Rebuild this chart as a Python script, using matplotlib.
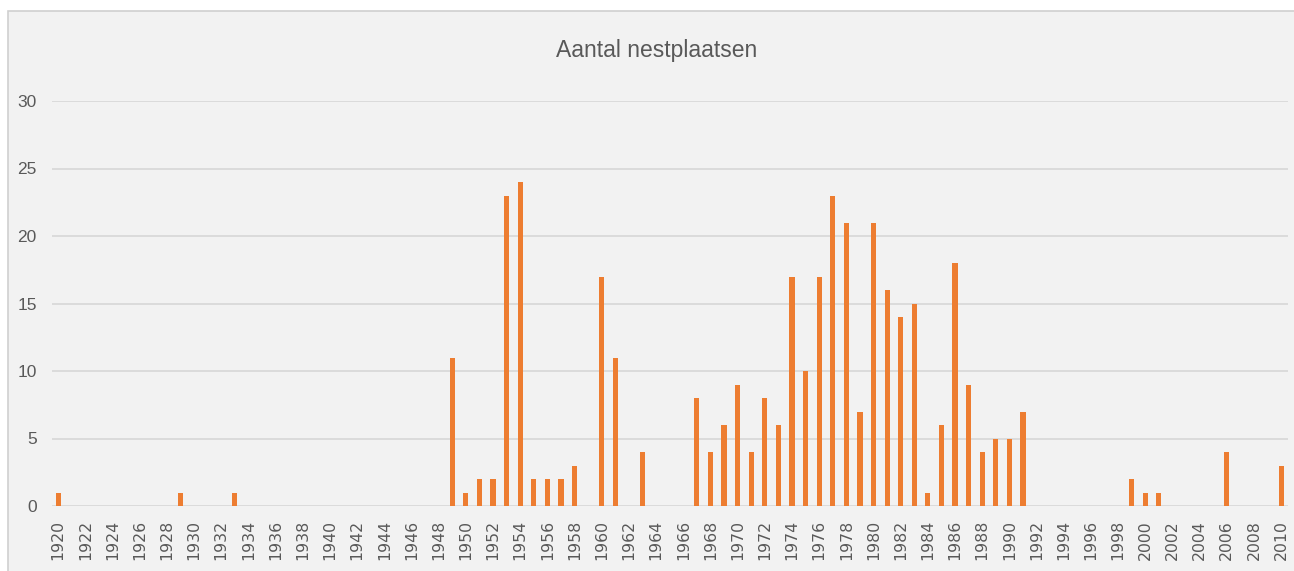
import matplotlib.pyplot as plt
from matplotlib.patches import Rectangle

# jaren en aantallen
years = list(range(1920, 2011))
nonzero = {
    1920: 1, 1929: 1, 1933: 1,
    1949: 11, 1950: 1, 1951: 2, 1952: 2, 1953: 23, 1954: 24, 1955: 2,
    1956: 2, 1957: 2, 1958: 3, 1960: 17, 1961: 11, 1963: 4,
    1967: 8, 1968: 4, 1969: 6, 1970: 9, 1971: 4, 1972: 8, 1973: 6,
    1974: 17, 1975: 10, 1976: 17, 1977: 23, 1978: 21, 1979: 7, 1980: 21,
    1981: 16, 1982: 14, 1983: 15, 1984: 1, 1985: 6, 1986: 18, 1987: 9,
    1988: 4, 1989: 5, 1990: 5, 1991: 7,
    1999: 2, 2000: 1, 2001: 1, 2006: 4, 2010: 3,
}
counts = [nonzero.get(y, 0) for y in years]
tick_years = years[::2]
y_ticks = [0, 5, 10, 15, 20, 25, 30]

bg = "#f2f2f2"
txt = "#595959"

fig = plt.figure(figsize=(12.94, 5.71), dpi=100, facecolor="white")
# kader van de grafiek
frame = Rectangle((8 / 1294, -0.01), 1.0, 1 - 11 / 571 + 0.01,
                  transform=fig.transFigure, facecolor=bg,
                  edgecolor="#d0d0d0", linewidth=1.2, zorder=-10)
fig.add_artist(frame)

ax = fig.add_axes([52 / 1294, 1 - 506 / 571, (1288 - 52) / 1294, (506 - 101) / 571])
ax.set_facecolor(bg)
ax.set_zorder(5)

x = list(range(len(years)))
ax.bar(x, counts, width=0.38, color="#ed7d31", zorder=3)

ax.set_xlim(-0.45, len(years) - 0.5)
ax.set_ylim(0, 30)
ax.set_yticks(y_ticks)
ax.set_yticklabels([str(v) for v in y_ticks], fontsize=12.5, color=txt,
                   family=["Liberation Sans", "DejaVu Sans"])
ax.set_xticks([years.index(y) for y in tick_years])
ax.set_xticklabels([str(y) for y in tick_years], rotation=90, fontsize=11.3,
                   color=txt, family=["DejaVu Sans"])
ax.tick_params(axis="both", length=0)
ax.tick_params(axis="y", pad=11)
ax.tick_params(axis="x", pad=10)

ax.grid(True, axis="y", color="#d9d9d9", linewidth=1.3, zorder=0)
ax.set_axisbelow(True)
for s in ax.spines.values():
    s.set_visible(False)

fig.text(657 / 1294, 1 - 50 / 571, "Aantal nestplaatsen", ha="center", va="center",
         fontsize=16.5, color=txt, family=["Liberation Sans", "DejaVu Sans"])

fig.savefig("out.png", dpi=100, facecolor="white")
